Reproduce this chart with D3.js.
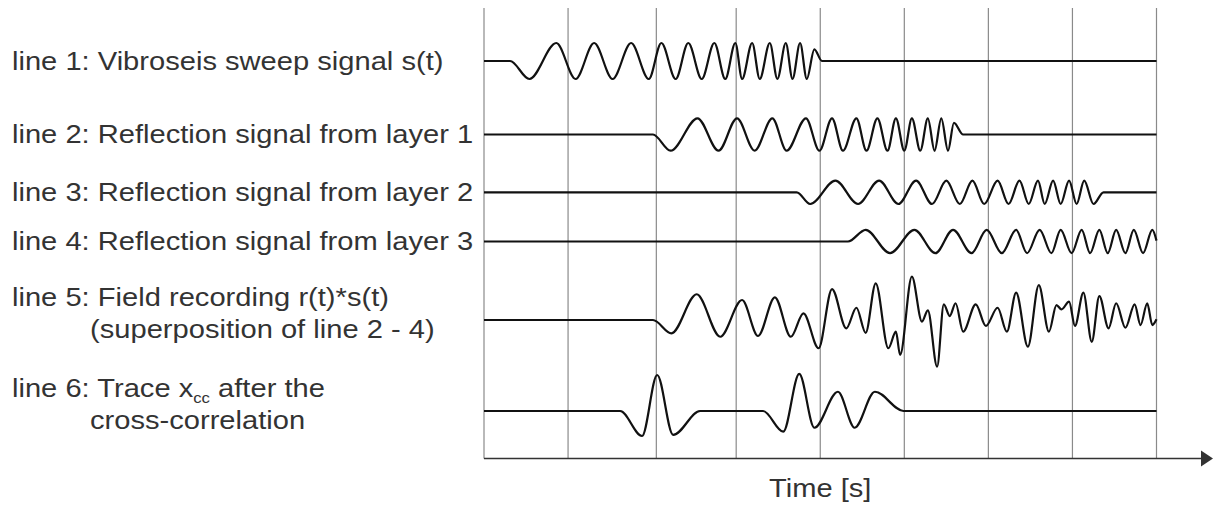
<!DOCTYPE html>
<html>
<head>
<meta charset="utf-8">
<script src="https://cdn.jsdelivr.net/npm/d3@7/dist/d3.min.js"></script>
<style>
  html, body { margin: 0; padding: 0; background: #fff; }
  svg { display: block; }
  text { font-family: "Liberation Sans", Arial, Helvetica, sans-serif; fill: #333; }
</style>
</head>
<body>
<svg id="chart" width="1214" height="506"></svg>
<script>
// Time positions of the vertical reference lines (arbitrary time units)
const gridTimes = [0, 1, 2.05, 3, 4, 5, 6, 7, 8];

// Each trace: [time, relative amplitude] at its turning points
const sweepSignal = [
  [0, 0], [0.31, 0], [0.54, -1], [0.86, 1], [1.09, -1], [1.31, 1], [1.53, -1],
  [1.75, 1], [1.96, -1], [2.11, 1], [2.28, -1], [2.43, 1], [2.59, -1], [2.74, 1],
  [2.87, -1], [2.99, 1], [3.07, -1], [3.19, 1], [3.28, -1], [3.40, 1], [3.49, -1],
  [3.59, 1], [3.67, -1], [3.76, 1], [3.84, -1], [3.93, 0.65], [4.02, 0], [8, 0]
];

const reflectionLayer1 = [
  [0, 0], [2.01, 0], [2.22, -0.9], [2.54, 0.9], [2.79, -0.9], [3.01, 0.9], [3.22, -0.9],
  [3.43, 0.9], [3.60, -0.9], [3.83, 0.9], [3.99, -0.9], [4.14, 0.9], [4.27, -0.9],
  [4.43, 0.9], [4.55, -0.9], [4.68, 0.9], [4.80, -0.9], [4.90, 0.9], [5.00, -0.9],
  [5.09, 0.9], [5.19, -0.9], [5.28, 0.9], [5.36, -0.9], [5.44, 0.9], [5.52, -0.9],
  [5.59, 0.65], [5.70, 0], [8, 0]
];

const reflectionLayer2 = [
  [0, 0], [3.72, 0], [3.88, -0.65], [4.18, 0.65], [4.45, -0.65], [4.70, 0.65],
  [4.93, -0.65], [5.14, 0.65], [5.33, -0.65], [5.50, 0.65], [5.66, -0.65], [5.81, 0.65],
  [5.95, -0.65], [6.11, 0.65], [6.24, -0.65], [6.37, 0.65], [6.48, -0.65], [6.59, 0.65],
  [6.67, -0.65], [6.77, 0.65], [6.86, -0.65], [6.96, 0.65], [7.05, -0.65], [7.14, 0.65],
  [7.25, -0.65], [7.37, 0], [8, 0]
];

const reflectionLayer3 = [
  [0, 0], [4.33, 0], [4.54, 0.65], [4.83, -0.65], [5.12, 0.65], [5.37, -0.65],
  [5.58, 0.65], [5.80, -0.65], [5.98, 0.65], [6.16, -0.65], [6.33, 0.65], [6.46, -0.65],
  [6.61, 0.65], [6.75, -0.65], [6.86, 0.65], [6.99, -0.65], [7.11, 0.65], [7.21, -0.65],
  [7.32, 0.65], [7.42, -0.65], [7.52, 0.65], [7.63, -0.65], [7.73, 0.65], [7.84, -0.65],
  [7.95, 0.65], [8.00, 0.05]
];

const fieldRecording = [
  [0, 0], [2.01, 0], [2.23, -0.74], [2.53, 1.43], [2.81, -0.93], [3.07, 1.11],
  [3.26, -0.89], [3.46, 1.26], [3.65, -0.93], [3.80, 0.37], [3.98, -1.57], [4.14, 1.72],
  [4.31, -0.46], [4.43, 0.68], [4.54, -0.71], [4.66, 2.04], [4.81, -1.57], [4.90, -0.65],
  [4.95, -1.94], [5.09, 2.41], [5.21, -0.09], [5.28, 0.54], [5.39, -2.59], [5.47, 0.87],
  [5.54, 0.22], [5.61, 0.93], [5.70, -0.65], [5.85, 0.87], [5.97, -0.33], [6.11, 0.68],
  [6.22, -0.65], [6.33, 1.52], [6.47, -1.48], [6.60, 1.94], [6.72, -0.65], [6.81, 0.83],
  [6.87, 0.59], [6.96, 1.02], [7.03, -0.33], [7.13, 1.52], [7.23, -1.21], [7.32, 1.33],
  [7.43, -0.46], [7.52, 0.93], [7.63, -0.43], [7.74, 0.87], [7.81, -0.28], [7.89, 0.93],
  [7.95, -0.28], [8.00, 0.04]
];

const crossCorrelation = [
  [0, 0], [1.62, 0], [1.88, -1.39], [2.06, 2.0], [2.25, -1.33], [2.57, 0],
  [3.32, 0], [3.56, -1.15], [3.75, 2.06], [3.93, -0.93], [4.21, 1.07], [4.41, -0.93],
  [4.65, 1.07], [4.99, 0], [8, 0]
];

const traces = [sweepSignal, reflectionLayer1, reflectionLayer2, reflectionLayer3, fieldRecording, crossCorrelation];

// Label text for each trace (one entry per text line; |..| marks a subscript)
const traceLabels = [
  ["line 1: Vibroseis sweep signal s(t)"],
  ["line 2: Reflection signal from layer 1"],
  ["line 3: Reflection signal from layer 2"],
  ["line 4: Reflection signal from layer 3"],
  ["line 5: Field recording r(t)*s(t)", "(superposition of line 2 - 4)"],
  ["line 6: Trace x|cc| after the", "cross-correlation"]
];
const axisTitle = "Time [s]";

// ---- layout ----
const baselines = [61, 134.5, 192.3, 241.5, 320, 411];
const labelBaselineShift = 8.5;
const twoRowShift = -22.5;
const lineGap = 32;
const plotTop = 8, axisY = 458.5;

const svg = d3.select("#chart");

const x = d3.scaleLinear().domain([0, 8]).range([484, 1156.5]);
const amp = d3.scaleLinear().domain([-1, 1]).range([18, -18]);

// vertical reference lines
svg.append("g")
  .selectAll("line")
  .data(gridTimes)
  .join("line")
  .attr("x1", d => x(d)).attr("x2", d => x(d))
  .attr("y1", plotTop).attr("y2", axisY)
  .attr("stroke", "#8a8a8a")
  .attr("stroke-width", 1.2);

// time axis with arrow head
svg.append("line")
  .attr("x1", x(0)).attr("x2", 1202)
  .attr("y1", axisY).attr("y2", axisY)
  .attr("stroke", "#333").attr("stroke-width", 1.6);
svg.append("path")
  .attr("d", `M1201,${axisY - 8}L1213,${axisY}L1201,${axisY + 8}Z`)
  .attr("fill", "#333");

svg.append("g")
  .attr("transform", `translate(${x(4)},497) scale(1.12,1)`)
  .append("text")
  .attr("text-anchor", "middle")
  .attr("font-size", 26)
  .text(axisTitle);

// traces
const line = d3.line()
  .x(d => x(d[0]))
  .curve(d3.curveMonotoneX);

svg.append("g")
  .selectAll("path")
  .data(traces)
  .join("path")
  .attr("d", (d, i) => line.y(p => baselines[i] + amp(p[1]))(d))
  .attr("fill", "none")
  .attr("stroke", "#111")
  .attr("stroke-width", 2.2)
  .attr("stroke-linejoin", "round");

// labels
const labelX = [12, 90];
traceLabels.forEach((rows, i) => {
  const shift = labelBaselineShift + (rows.length > 1 ? twoRowShift : 0);
  rows.forEach((row, j) => {
    const g = svg.append("g")
      .attr("transform", `translate(${labelX[j === 0 ? 0 : 1]},${baselines[i] + shift + j * lineGap}) scale(1.12,1)`);
    const t = g.append("text").attr("font-size", 26);
    const parts = row.split("|");
    if (parts.length === 1) {
      t.text(row);
    } else {
      t.append("tspan").text(parts[0]);
      t.append("tspan").attr("font-size", 15).attr("dy", 6).text(parts[1]);
      t.append("tspan").attr("dy", -6).text(parts[2]);
    }
  });
});
</script>
</body>
</html>
